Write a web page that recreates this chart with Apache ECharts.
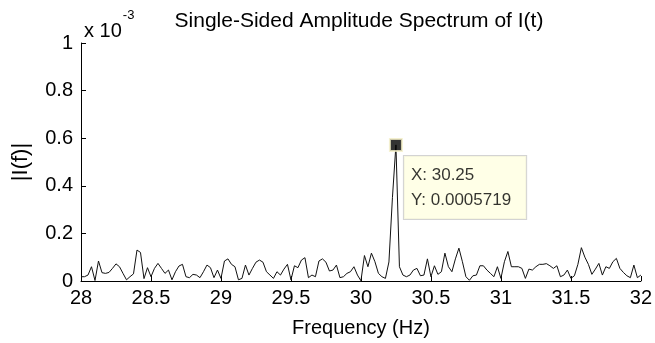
<!DOCTYPE html>
<html>
<head>
<meta charset="utf-8">
<script src="https://cdn.jsdelivr.net/npm/echarts@6/dist/echarts.min.js"></script>
<style>html,body{margin:0;padding:0;background:#fff;}#c{width:655px;height:343px;}</style>
</head>
<body>
<div id="c"></div>
<script>
// Frequency grid start / step (Hz)
const freqStart = 28;
const freqStep = 0.025;
// Amplitude values in units of 1e-3
const amplitude = [
 0.018,0.018,0.025,0.060,0.002,0.084,0.035,0.032,0.036,0.053,
 0.072,0.060,0.032,0.005,0.018,0.030,0.130,0.120,0.010,0.056,
 0.018,0.053,0.074,0.053,0.032,0.046,0.005,0.039,0.063,0.070,
 0.018,0.014,0.028,0.025,0.014,0.039,0.067,0.056,0.014,0.046,
 0.011,0.084,0.093,0.070,0.060,0.005,0.011,0.067,0.025,0.053,
 0.079,0.088,0.079,0.039,0.025,0.011,0.039,0.025,0.050,0.070,
 0.005,0.064,0.056,0.088,0.098,0.014,0.025,0.018,0.084,0.093,
 0.079,0.042,0.046,0.067,0.014,0.018,0.032,0.039,0.060,0.025,
 0.001,0.107,0.060,0.117,0.081,0.032,0.018,0.011,0.080,0.350,
 0.5719,0.060,0.025,0.018,0.025,0.046,0.053,0.022,0.025,0.093,
 0.018,0.064,0.028,0.039,0.117,0.060,0.039,0.093,0.138,0.081,
 0.018,0.003,0.022,0.025,0.064,0.064,0.046,0.032,0.018,0.060,
 0.011,0.081,0.124,0.060,0.060,0.060,0.053,0.011,0.050,0.046,
 0.060,0.070,0.070,0.073,0.064,0.053,0.064,0.018,0.025,0.046,
 0.011,0.022,0.070,0.140,0.100,0.070,0.028,0.050,0.074,0.025,
 0.060,0.053,0.081,0.095,0.053,0.036,0.022,0.014,0.067,0.014,
 0.025
];
// Data tip point
const tipX = 30.25;
const tipY = 0.5719;
// Axis ticks
const xTicks = {min: 28, max: 32, interval: 0.5};
const yTicks = {min: 0, max: 1, interval: 0.2};

const seriesData = amplitude.map((v, i) => [+(freqStart + i * freqStep).toFixed(4), v]);
const FONT = 'Liberation Sans, Arial, sans-serif';

const chart = echarts.init(document.getElementById('c'), null, {renderer: 'canvas'});
chart.setOption({
  animation: false,
  backgroundColor: '#fff',
  title: [{
    text: 'Single-Sided Amplitude Spectrum of I(t)',
    left: 354, top: 6, textAlign: 'center',
    textStyle: {fontFamily: FONT, fontSize: 21, fontWeight: 'normal', color: '#000'}
  }, {
    text: '{a|x 10}{b|-3}',
    left: 79, top: 4,
    textStyle: {
      fontWeight: 'normal',
      rich: {
        a: {fontFamily: FONT, fontSize: 20, fontWeight: 'normal', color: '#000', verticalAlign: 'bottom', lineHeight: 32},
        b: {fontFamily: FONT, fontSize: 13, fontWeight: 'normal', color: '#000', verticalAlign: 'top', lineHeight: 32, padding: [0,0,14,1]}
      }
    }
  }],
  grid: {left: 81, right: 14, top: 43, bottom: 62},
  xAxis: {
    type: 'value', min: xTicks.min, max: xTicks.max, interval: xTicks.interval,
    name: 'Frequency (Hz)', nameLocation: 'middle', nameGap: 37,
    nameTextStyle: {fontFamily: FONT, fontSize: 20, color: '#000'},
    axisLine: {show: true, lineStyle: {color: '#000', width: 1}},
    axisTick: {show: true, inside: true, length: 5, lineStyle: {color: '#000'}},
    axisLabel: {fontFamily: FONT, fontSize: 20, color: '#000', margin: 7},
    splitLine: {show: false}
  },
  yAxis: {
    type: 'value', min: yTicks.min, max: yTicks.max, interval: yTicks.interval,
    name: '|I(f)|', nameLocation: 'middle', nameGap: 49, nameRotate: 90,
    nameTextStyle: {fontFamily: FONT, fontSize: 22, color: '#000'},
    axisLine: {show: true, lineStyle: {color: '#000', width: 1}},
    axisTick: {show: true, inside: true, length: 5, lineStyle: {color: '#000'}},
    axisLabel: {fontFamily: FONT, fontSize: 20, color: '#000', margin: 8},
    splitLine: {show: false}
  },
  series: [{
    type: 'line',
    data: seriesData,
    showSymbol: false,
    symbol: 'none',
    lineStyle: {color: '#111', width: 1},
    z: 2
  }, {
    type: 'scatter',
    data: [[tipX, tipY]],
    symbol: 'rect',
    symbolSize: 12,
    itemStyle: {color: '#000', borderColor: '#f5f0c8', borderWidth: 2},
    label: {
      show: true,
      position: [15, 18],
      align: 'left', verticalAlign: 'top',
      formatter: 'X: ' + tipX + '\nY: ' + (tipY * 1e-3).toPrecision(4),
      fontFamily: FONT, fontSize: 17, color: '#000', lineHeight: 25,
      backgroundColor: '#ffffe1', borderColor: '#c8c8c8', borderWidth: 1,
      padding: [7, 15, 6, 7]
    },
    z: 5
  }]
});
</script>
</body>
</html>
